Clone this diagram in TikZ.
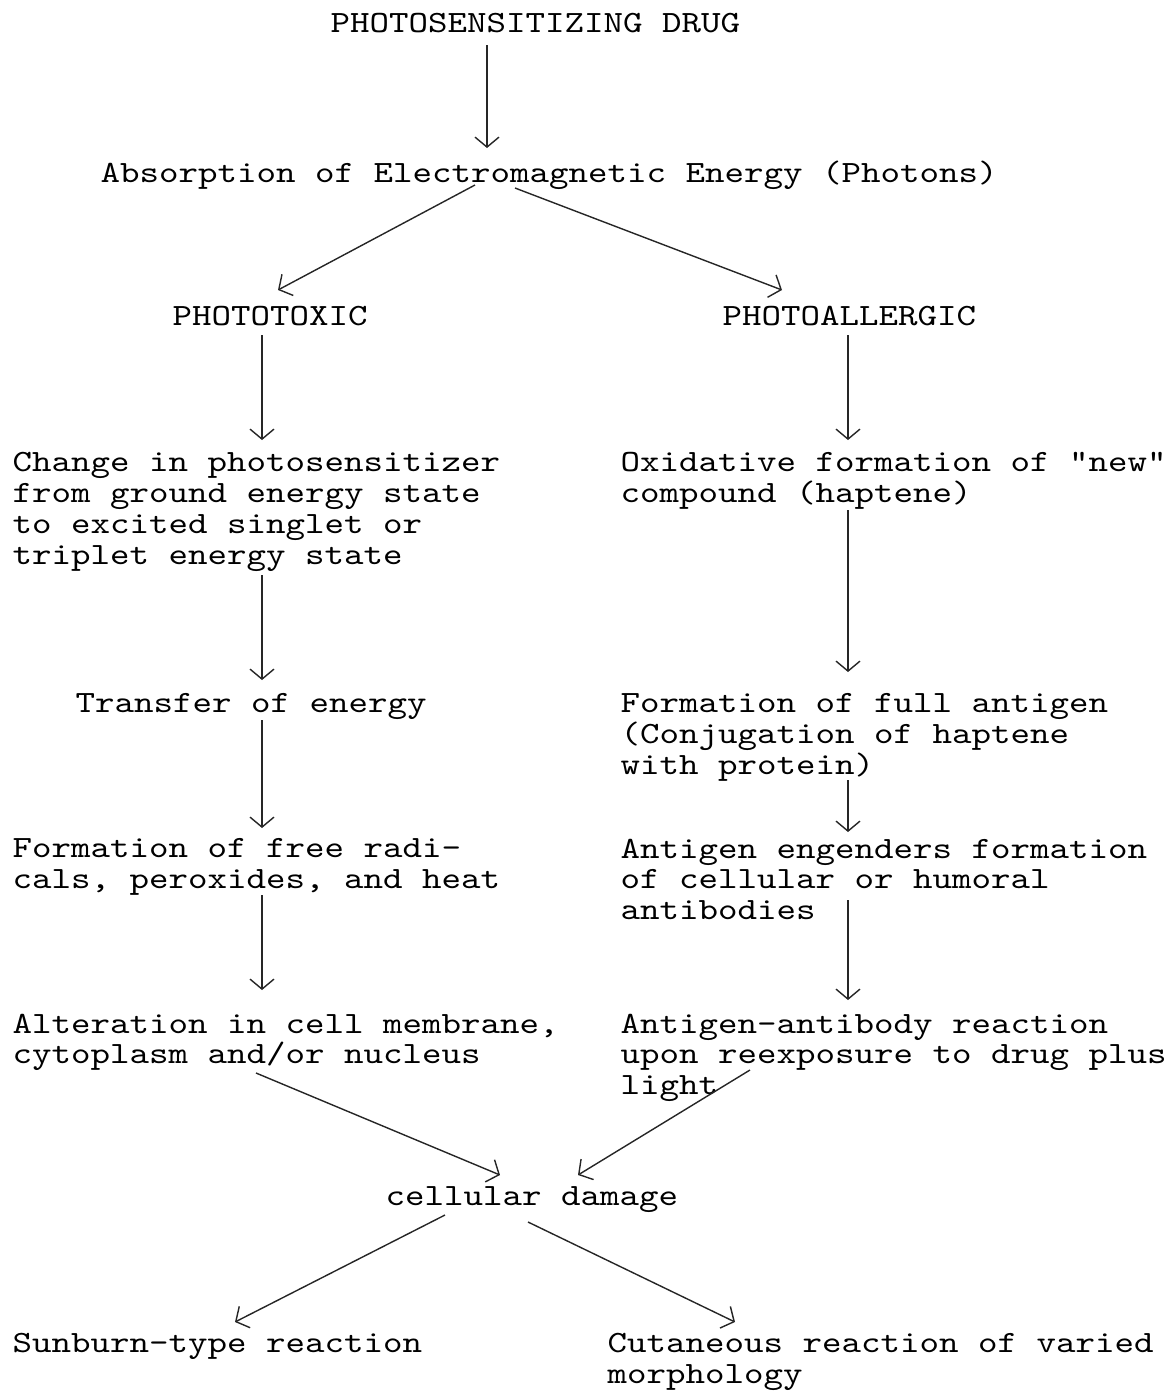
\documentclass[tikz,border=0pt]{standalone}
\usepackage{fontspec}
\setmonofont{lmmono10-regular.otf}[FakeStretch=1.2]
\usetikzlibrary{arrows.meta,calc}
\tikzset{
  txt/.style={anchor=north west, inner sep=0pt, align=left,
    font=\ttfamily\fontsize{8.8}{8.8}\selectfont},
  arr/.style={-{Straight Barb[length=1mm,width=2.4mm]}, line width=0.4pt, black!85}
}

\begin{document}
\begin{tikzpicture}[x=0.01cm,y=-0.01cm]
  \useasboundingbox (0,0) rectangle (1174,1393);
	%# DRUG AND ABSORPTION
  \node[txt] (drug) at (330,13) {PHOTOSENSITIZING DRUG};
  \node[txt] (absorb) at (100,160) {Absorption of Electromagnetic Energy (Photons)};
  \node[txt] (tox) at (172,306) {PHOTOTOXIC};
  \node[txt] (allerg) at (722,306) {PHOTOALLERGIC};

	%# PHOTOTOXIC BRANCH
  \node[txt] (change) at (12,452) {Change in photosensitizer\\from ground energy state\\to excited singlet or\\triplet energy state};
  \node[txt] (transfer) at (75,693) {Transfer of energy};
  \node[txt] (radic) at (12,838) {Formation of free radi-\\cals, peroxides, and heat};
  \node[txt] (alter) at (12,1013) {Alteration in cell membrane,\\cytoplasm and/or nucleus};

	%# PHOTOALLERGIC BRANCH
  \node[txt] (oxid) at (620,452) {Oxidative formation of "new"\\compound (haptene)};
  \node[txt] (antigen) at (620,693) {Formation of full antigen\\(Conjugation of haptene\\with protein)};
  \node[txt] (engend) at (620,838) {Antigen engenders formation\\of cellular or humoral\\antibodies};
  \node[txt] (reaction) at (620,1013) {Antigen-antibody reaction\\upon reexposure to drug plus\\light};

	%# DAMAGE AND REACTIONS
  \node[txt] (damage) at (385,1186) {cellular damage};
  \node[txt] (sunburn) at (12,1333) {Sunburn-type reaction};
  \node[txt] (cutan) at (607,1333) {Cutaneous reaction of varied\\morphology};

	%# ARROWS
  \draw[arr] ($(drug.north west)+(157,32)$) -- ($(absorb.north west)+(387,-12)$);
  \draw[arr] ($(absorb.north west)+(375,25)$) -- ($(tox.north west)+(106,-16)$);
  \draw[arr] ($(absorb.north west)+(415,28)$) -- ($(allerg.north west)+(60,-16)$);
  \draw[arr] ($(tox.north west)+(90,29)$) -- ($(change.north west)+(250,-12)$);
  \draw[arr] ($(allerg.north west)+(126,29)$) -- ($(oxid.north west)+(228,-12)$);
  \draw[arr] ($(change.north west)+(250,123)$) -- ($(transfer.north west)+(187,-13)$);
  \draw[arr] ($(oxid.north west)+(228,58)$) -- ($(antigen.north west)+(228,-21)$);
  \draw[arr] ($(transfer.north west)+(187,27)$) -- ($(radic.north west)+(250,-10)$);
  \draw[arr] ($(antigen.north west)+(228,87)$) -- ($(engend.north west)+(228,-6)$);
  \draw[arr] ($(radic.north west)+(250,57)$) -- ($(alter.north west)+(250,-23)$);
  \draw[arr] ($(engend.north west)+(228,62)$) -- ($(reaction.north west)+(228,-13)$);
  \draw[arr] ($(alter.north west)+(244,60)$) -- ($(damage.north west)+(115,-11)$);
  \draw[arr] ($(reaction.north west)+(130,57)$) -- ($(damage.north west)+(193,-11)$);
  \draw[arr] ($(damage.north west)+(60,29)$) -- ($(sunburn.north west)+(223,-11)$);
  \draw[arr] ($(damage.north west)+(143,36)$) -- ($(cutan.north west)+(128,-11)$);
\end{tikzpicture}
\end{document}
